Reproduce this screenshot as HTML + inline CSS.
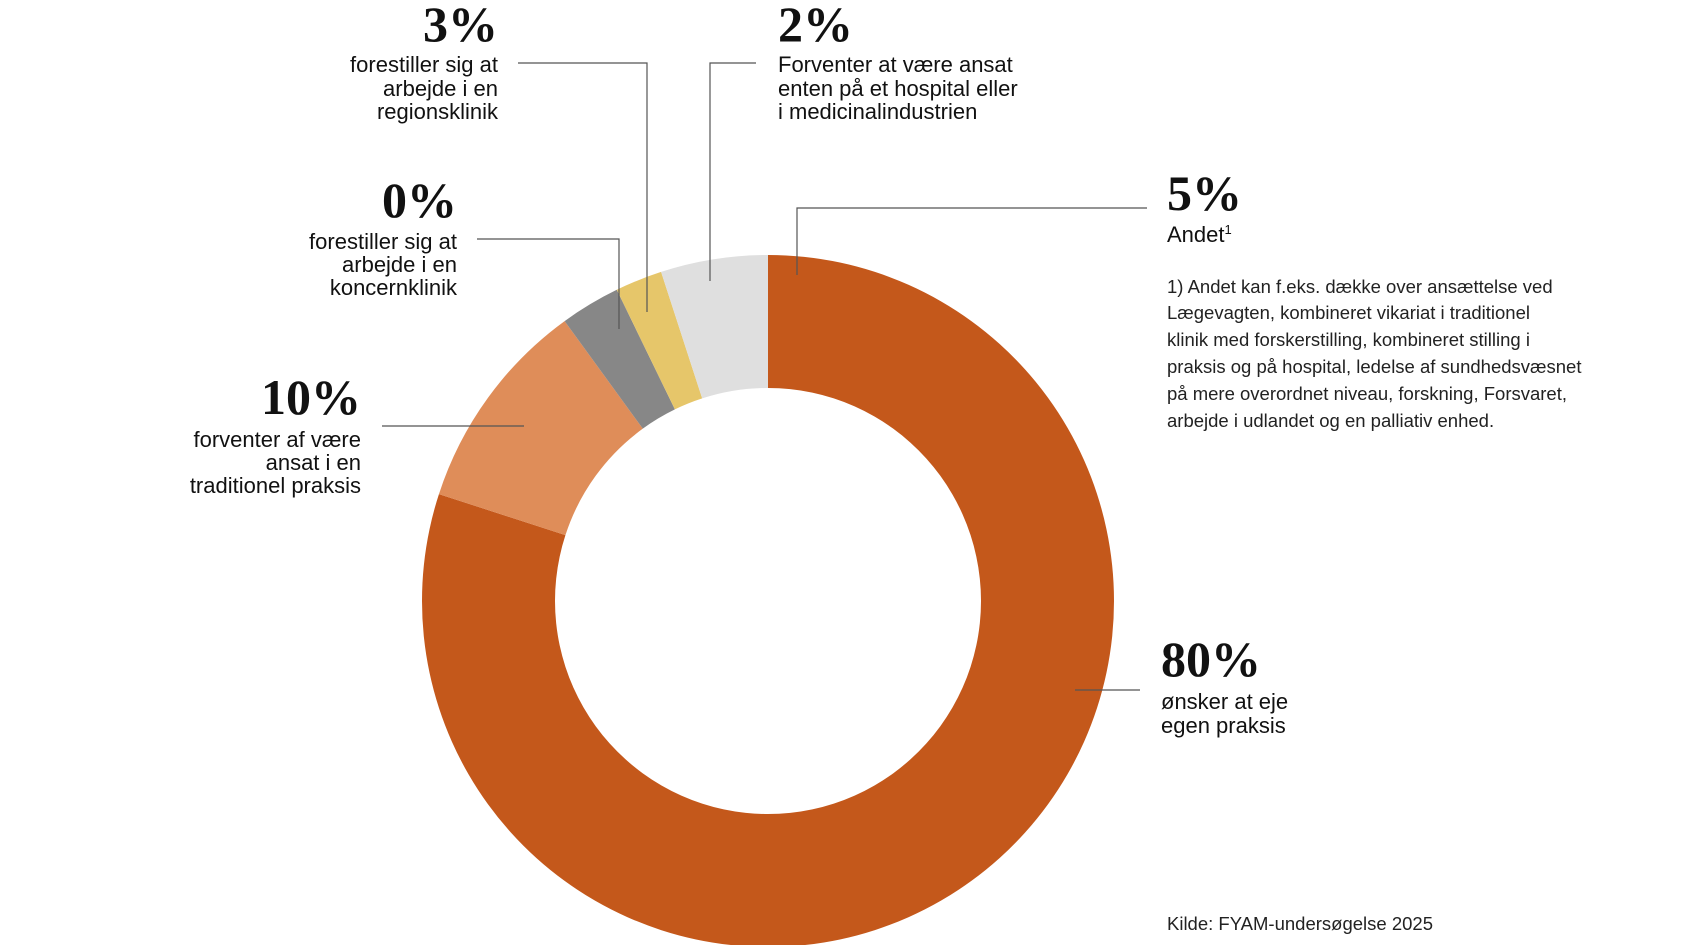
<!DOCTYPE html>
<html><head><meta charset="utf-8"><style>
html,body{margin:0;padding:0;background:#fff;}
svg{display:block;}
.num{font-family:"Liberation Serif",serif;font-weight:bold;font-size:50px;fill:#111;}
.lbl{font-family:"Liberation Sans",sans-serif;font-size:22px;fill:#111;}
.fn{font-family:"Liberation Sans",sans-serif;font-size:18.5px;fill:#222;}
.ld{stroke:#555;stroke-width:1.2;fill:none;}
</style></head><body>
<svg id="chart" width="1684" height="945" viewBox="0 0 1684 945">
<g id="slices"></g>
<g>
<polyline class="ld" points="518,63 647,63 647,312"/>
<polyline class="ld" points="756,63 710,63 710,281"/>
<polyline class="ld" points="477,239 619,239 619,329"/>
<polyline class="ld" points="382,426 524,426"/>
<polyline class="ld" points="1147,208 797,208 797,275"/>
<polyline class="ld" points="1075,690 1140,690"/>
</g>
<g text-anchor="end">
<text class="num" x="498" y="41">3%</text>
<text class="lbl" x="498" y="72">forestiller sig at</text>
<text class="lbl" x="498" y="96">arbejde i en</text>
<text class="lbl" x="498" y="119">regionsklinik</text>
</g>
<g>
<text class="num" x="778" y="41">2%</text>
<text class="lbl" x="778" y="72">Forventer at være ansat</text>
<text class="lbl" x="778" y="96">enten på et hospital eller</text>
<text class="lbl" x="778" y="119">i medicinalindustrien</text>
</g>
<g text-anchor="end">
<text class="num" x="457" y="217">0%</text>
<text class="lbl" x="457" y="249">forestiller sig at</text>
<text class="lbl" x="457" y="272">arbejde i en</text>
<text class="lbl" x="457" y="295">koncernklinik</text>
</g>
<g text-anchor="end">
<text class="num" x="361" y="414">10%</text>
<text class="lbl" x="361" y="447">forventer af være</text>
<text class="lbl" x="361" y="470">ansat i en</text>
<text class="lbl" x="361" y="493">traditionel praksis</text>
</g>
<g>
<text class="num" x="1167" y="210">5%</text>
<text class="lbl" x="1167" y="242">Andet<tspan font-size="13" dy="-8">1</tspan></text>
</g>
<g>
<text class="fn" x="1167" y="293">1) Andet kan f.eks. dække over ansættelse ved</text>
<text class="fn" x="1167" y="319">Lægevagten, kombineret vikariat i traditionel</text>
<text class="fn" x="1167" y="346">klinik med forskerstilling, kombineret stilling i</text>
<text class="fn" x="1167" y="373">praksis og på hospital, ledelse af sundhedsvæsnet</text>
<text class="fn" x="1167" y="400">på mere overordnet niveau, forskning, Forsvaret,</text>
<text class="fn" x="1167" y="427">arbejde i udlandet og en palliativ enhed.</text>
</g>
<g>
<text class="num" x="1161" y="676">80%</text>
<text class="lbl" x="1161" y="709">ønsker at eje</text>
<text class="lbl" x="1161" y="733">egen praksis</text>
</g>
<text class="fn" x="1167" y="930">Kilde: FYAM-undersøgelse 2025</text>
</svg>
<script>
const categories = ["Eje egen praksis","Traditionel praksis","Koncernklinik","Regionsklinik","Hospital/medicinalindustri"];
const values = [80, 10, 2.8, 2.2, 5];
const colors = ["#C4581B","#DF8D59","#878787","#E6C66A","#DFDFDF"];
const cx = 768, cy = 601, R = 346, r = 213;
const total = values.reduce((a,b)=>a+b,0);
function pt(a, rad){ return [cx + rad*Math.sin(a), cy - rad*Math.cos(a)]; }
const g = document.getElementById('slices');
let acc = 0;
values.forEach((v,i)=>{
  const a0 = acc/total*2*Math.PI; acc += v;
  const a1 = acc/total*2*Math.PI;
  const large = (a1-a0) > Math.PI ? 1 : 0;
  const [x0,y0]=pt(a0,R),[x1,y1]=pt(a1,R),[x2,y2]=pt(a1,r),[x3,y3]=pt(a0,r);
  const p = document.createElementNS('http://www.w3.org/2000/svg','path');
  p.setAttribute('d',`M${x0},${y0} A${R},${R} 0 ${large} 1 ${x1},${y1} L${x2},${y2} A${r},${r} 0 ${large} 0 ${x3},${y3} Z`);
  p.setAttribute('fill',colors[i]);
  
  
  g.appendChild(p);
});
</script>
</body></html>
